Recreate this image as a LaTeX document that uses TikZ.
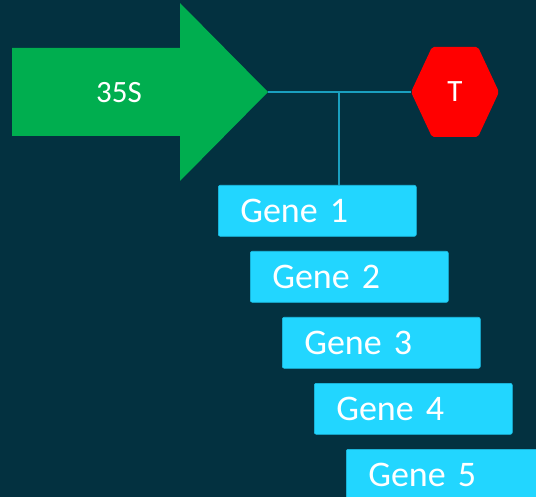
\documentclass[tikz,border=0pt]{standalone}
\usepackage{fontspec}
\setmainfont{Carlito}
\definecolor{bg}{HTML}{033140}
\definecolor{promgreen}{HTML}{00AE4F}
\definecolor{genecyan}{HTML}{22D6FF}
\definecolor{geneedge}{HTML}{1CBFE6}
\definecolor{wire}{HTML}{1A9FBF}
\tikzset{
  genebox/.style={rectangle, rounded corners=2pt, fill=genecyan, draw=geneedge, line width=0.6pt,
    anchor=north west, minimum height=51pt, text width=154pt, inner xsep=22pt, inner ysep=0pt,
    align=left, text=white, font=\fontsize{36}{40}\selectfont},
  wireline/.style={draw=wire, line width=2pt},
  label35/.style={text=white, font=\fontsize{31}{34}\selectfont, inner sep=0pt}
}
\begin{document}
\begin{tikzpicture}[x=1pt,y=-1pt]
\fill[bg] (0,0) rectangle (536,497);
\useasboundingbox (0,0) rectangle (536,497);
\clip (0,0) rectangle (536,497);
% promoter arrow
\fill[promgreen] (12,48) -- (180,48) -- (180,3) -- (268,92) -- (180,181) -- (180,136) -- (12,136) -- cycle;
\coordinate (tip) at (268,92);
\node[label35] (p35) at (119,93) {35S};
% terminator hexagon
\fill[red, rounded corners=2pt] (411,92) -- (432,47) -- (478,47) -- (499,92) -- (478,137) -- (432,137) -- cycle;
\coordinate (hexL) at (411,92);
\node[label35] (term) at (455,92) {T};
% genes
\node[genebox] (g1) at (218,185) {Gene 1};
\node[genebox] (g2) at (250,251) {Gene 2};
\node[genebox] (g3) at (282,317) {Gene 3};
\node[genebox] (g4) at (314,383) {Gene 4};
\node[genebox] (g5) at (346,449) {Gene 5};
% connectors
\coordinate (j) at (339,92);
\draw[wireline] (tip) -- (hexL);
\draw[wireline] (j) -- (j |- g1.north);
\end{tikzpicture}
\end{document}
